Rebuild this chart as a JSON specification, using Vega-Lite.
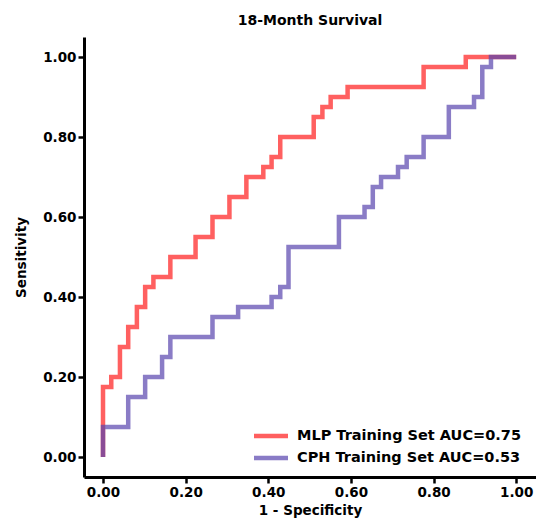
{
  "$schema": "https://vega.github.io/schema/vega-lite/v6.json",
  "width": 452,
  "height": 440,
  "autosize": {"type": "none"},
  "padding": {"left": 84, "top": 37, "right": 0, "bottom": 41},
  "background": "white",
  "config": {
    "view": {"stroke": null},
    "font": "DejaVu Sans",
    "axis": {
      "domainColor": "black", "domainWidth": 3, "tickColor": "black", "tickWidth": 2.5, "tickSize": 6,
      "labelFont": "DejaVu Sans", "labelFontWeight": "bold", "labelFontSize": 13.5, "labelColor": "black",
      "titleFont": "DejaVu Sans", "titleFontWeight": "bold", "titleFontSize": 13.5, "titleColor": "black",
      "grid": false
    }
  },
  "title": {"text": "18-Month Survival", "font": "DejaVu Sans", "fontWeight": "bold", "fontSize": 14, "color": "black", "offset": 9},
  "datasets": {
    "mlp": [
      {"fpr": 0.0, "tpr": 0.0}, {"fpr": 0.0, "tpr": 0.175}, {"fpr": 0.020, "tpr": 0.2}, {"fpr": 0.041, "tpr": 0.275},
      {"fpr": 0.061, "tpr": 0.325}, {"fpr": 0.082, "tpr": 0.375}, {"fpr": 0.102, "tpr": 0.425}, {"fpr": 0.122, "tpr": 0.45},
      {"fpr": 0.163, "tpr": 0.5}, {"fpr": 0.224, "tpr": 0.55}, {"fpr": 0.265, "tpr": 0.6}, {"fpr": 0.306, "tpr": 0.65},
      {"fpr": 0.347, "tpr": 0.7}, {"fpr": 0.388, "tpr": 0.725}, {"fpr": 0.408, "tpr": 0.75}, {"fpr": 0.429, "tpr": 0.8},
      {"fpr": 0.510, "tpr": 0.85}, {"fpr": 0.531, "tpr": 0.875}, {"fpr": 0.551, "tpr": 0.9}, {"fpr": 0.592, "tpr": 0.925},
      {"fpr": 0.776, "tpr": 0.975}, {"fpr": 0.878, "tpr": 1.0}, {"fpr": 1.0, "tpr": 1.0}
    ],
    "cph": [
      {"fpr": 0.0, "tpr": 0.0}, {"fpr": 0.0, "tpr": 0.075}, {"fpr": 0.061, "tpr": 0.15}, {"fpr": 0.102, "tpr": 0.2},
      {"fpr": 0.143, "tpr": 0.25}, {"fpr": 0.163, "tpr": 0.3}, {"fpr": 0.265, "tpr": 0.35}, {"fpr": 0.327, "tpr": 0.375},
      {"fpr": 0.408, "tpr": 0.4}, {"fpr": 0.429, "tpr": 0.425}, {"fpr": 0.449, "tpr": 0.525}, {"fpr": 0.571, "tpr": 0.6},
      {"fpr": 0.633, "tpr": 0.625}, {"fpr": 0.653, "tpr": 0.675}, {"fpr": 0.673, "tpr": 0.7}, {"fpr": 0.714, "tpr": 0.725},
      {"fpr": 0.735, "tpr": 0.75}, {"fpr": 0.776, "tpr": 0.8}, {"fpr": 0.837, "tpr": 0.875}, {"fpr": 0.898, "tpr": 0.9},
      {"fpr": 0.918, "tpr": 0.975}, {"fpr": 0.939, "tpr": 1.0}, {"fpr": 1.0, "tpr": 1.0}
    ]
  },
  "encoding": {
    "x": {"field": "fpr", "type": "quantitative", "scale": {"domain": [-0.046, 1.048], "nice": false, "zero": false},
      "axis": {"values": [0, 0.2, 0.4, 0.6, 0.8, 1.0], "format": ".2f", "title": "1 - Specificity", "titlePadding": 5}},
    "y": {"field": "tpr", "type": "quantitative", "scale": {"domain": [-0.05, 1.05], "nice": false, "zero": false},
      "axis": {"values": [0, 0.2, 0.4, 0.6, 0.8, 1.0], "format": ".2f", "title": "Sensitivity", "titlePadding": 14}},
    "order": {"field": "fpr", "type": "quantitative"}
  },
  "layer": [
    {
      "data": {"name": "mlp"},
      "transform": [{"calculate": "'MLP Training Set AUC=0.75'", "as": "model"}],
      "mark": {"type": "line", "interpolate": "step-after", "strokeWidth": 4.5, "opacity": 0.7, "clip": false},
      "encoding": {
        "color": {"field": "model", "type": "nominal",
          "scale": {"domain": ["MLP Training Set AUC=0.75", "CPH Training Set AUC=0.53"], "range": ["#ff1c1c", "#5844ae"]},
          "legend": {"title": null, "orient": "none", "legendX": 176, "legendY": 388, "symbolType": "M-2,0H2",
            "symbolSize": 289, "symbolStrokeWidth": 4.5, "symbolOpacity": 0.7, "labelFont": "DejaVu Sans", "labelFontWeight": "bold",
            "labelFontSize": 14.5, "labelColor": "black", "labelOffset": 15, "labelLimit": 0, "rowPadding": 2, "padding": 0}}
      }
    },
    {
      "data": {"name": "cph"},
      "transform": [{"calculate": "'CPH Training Set AUC=0.53'", "as": "model"}],
      "mark": {"type": "line", "interpolate": "step-after", "strokeWidth": 4.5, "opacity": 0.7, "clip": false},
      "encoding": {"color": {"field": "model", "type": "nominal"}}
    }
  ]
}
